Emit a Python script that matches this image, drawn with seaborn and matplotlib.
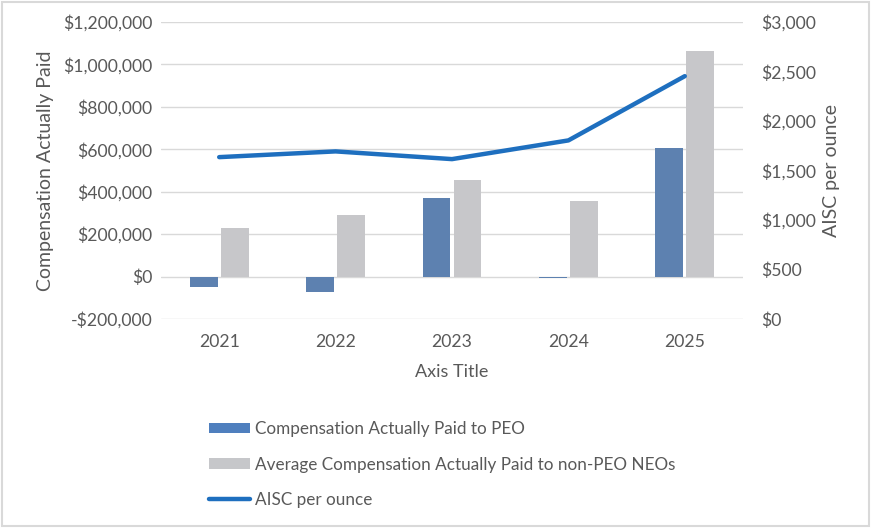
import matplotlib
matplotlib.use("Agg")
import matplotlib.pyplot as plt
import matplotlib.ticker as mticker
from matplotlib.patches import Patch, Rectangle
from matplotlib.lines import Line2D
import seaborn as sns
import pandas as pd

years = ["2021", "2022", "2023", "2024", "2025"]
peo_cap = [-47000, -71000, 371000, -7000, 608000]
neo_cap = [230000, 288000, 453000, 354000, 1062000]
aisc = [1635, 1693, 1615, 1804, 2453]

series_peo = "Compensation Actually Paid to PEO"
series_neo = "Average Compensation Actually Paid to non-PEO NEOs"
series_aisc = "AISC per ounce"

df = pd.DataFrame({
    "Year": years * 2,
    "Value": peo_cap + neo_cap,
    "Series": [series_peo] * len(years) + [series_neo] * len(years),
})

BLUE = "#4F7FBE"
GRAY = "#C6C7CA"
LINE = "#1E6FBF"
TXT = "#595959"
GRID = "#D9D9D9"

sns.set_theme(style="white")
plt.rcParams["font.family"] = ["Lato", "DejaVu Sans"]

fig = plt.figure(figsize=(8.71, 5.28), dpi=100)
ax = fig.add_axes([161 / 871, 1 - 319 / 528, (743 - 161) / 871, (319 - 22) / 528])

sns.barplot(data=df, x="Year", y="Value", hue="Series",
            palette=[BLUE, GRAY], width=0.53, gap=0.1, linewidth=0,
            errorbar=None, ax=ax, legend=False, zorder=2)

ax.set_ylim(-200000, 1200000)
ax.yaxis.set_major_locator(mticker.MultipleLocator(200000))
ax.yaxis.set_major_formatter(mticker.FuncFormatter(
    lambda v, p: f"-${abs(v):,.0f}" if v < 0 else f"${v:,.0f}"))
ax.grid(axis="y", color=GRID, linewidth=1.0, zorder=0)
ax.set_axisbelow(True)
for s in ax.spines.values():
    s.set_visible(False)
ax.tick_params(axis="both", length=0, labelsize=12.7, colors=TXT, pad=6)
ax.tick_params(axis="x", pad=11)
ax.set_ylabel("Compensation Actually Paid", fontsize=14, color=TXT, labelpad=7)
ax.set_xlabel("Axis Title", fontsize=13, color=TXT, labelpad=10)

ax2 = ax.twinx()
sns.lineplot(x=years, y=aisc, color=LINE, linewidth=3.2, ax=ax2,
             solid_capstyle="round", zorder=3)
ax2.set_ylim(0, 3000)
ax2.yaxis.set_major_locator(mticker.MultipleLocator(500))
ax2.yaxis.set_major_formatter(mticker.FuncFormatter(lambda v, p: f"${v:,.0f}"))
for s in ax2.spines.values():
    s.set_visible(False)
ax2.tick_params(axis="y", length=0, labelsize=12.7, colors=TXT, pad=13)
ax2.set_ylabel("AISC per ounce", fontsize=14, color=TXT, labelpad=5)
ax2.grid(False)
ax.set_xlim(-0.5, 4.5)

handles = [
    Patch(facecolor=BLUE, edgecolor="none"),
    Patch(facecolor=GRAY, edgecolor="none"),
    Line2D([0], [0], color=LINE, linewidth=3.2, solid_capstyle="round"),
]
leg = fig.legend(handles, [series_peo, series_neo, series_aisc],
                 loc="upper left", bbox_to_anchor=(194 / 871, 1 - 406 / 528),
                 frameon=False, fontsize=12.3, labelcolor=TXT,
                 handlelength=2.35, handleheight=0.55, handletextpad=0.3,
                 labelspacing=1.13)

fig.patches.append(Rectangle((0.002, 0.003), 0.996, 0.994, transform=fig.transFigure,
                             fill=False, edgecolor="#D9D9D9", linewidth=1.5))

fig.savefig("out.png", dpi=100)
